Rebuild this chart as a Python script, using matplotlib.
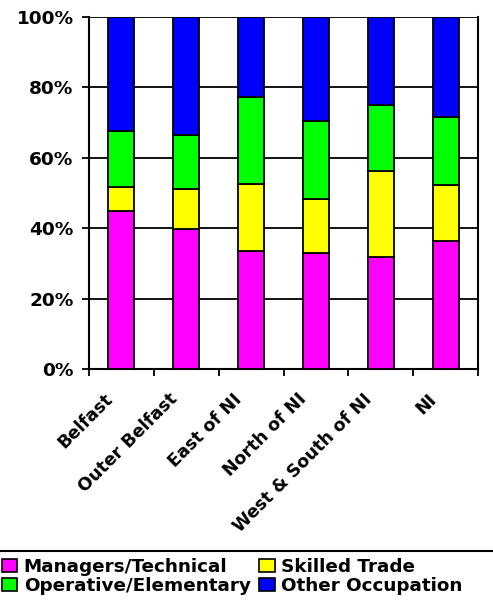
import matplotlib
matplotlib.use("Agg")

import matplotlib.pyplot as plt
from matplotlib.lines import Line2D
from matplotlib.patches import Patch
import numpy as np

regions = ["Belfast", "Outer Belfast", "East of NI", "North of NI",
           "West & South of NI", "NI"]
managers = [45.0, 39.8, 33.4, 33.0, 31.9, 36.5]
skilled = [6.7, 11.3, 19.1, 15.3, 24.3, 15.8]
operative = [15.8, 15.4, 24.7, 22.2, 18.8, 19.3]
other = [32.5, 33.5, 22.8, 29.5, 25.0, 28.4]

series = [
    ("Managers/Technical", managers, "#ff00ff"),
    ("Skilled Trade", skilled, "#ffff00"),
    ("Operative/Elementary", operative, "#00ff00"),
    ("Other Occupation", other, "#0000ff"),
]

plt.rcParams["font.family"] = ["DejaVu Sans"]
plt.rcParams["font.weight"] = "bold"

fig = plt.figure(figsize=(4.93, 6.04), dpi=100)
ax = fig.add_axes([89 / 493, 1 - 369 / 604, 389 / 493, 352 / 604])

x = np.arange(len(regions))
bottom = np.zeros(len(regions))
for name, vals, color in series:
    vals = np.array(vals)
    ax.bar(x, vals, width=0.4, bottom=bottom, color=color,
           edgecolor="black", linewidth=1.3, zorder=3)
    bottom += vals

# horizontal grid at every 20%
for yv in range(20, 101, 20):
    ax.axhline(yv, color="black", linewidth=1.3, zorder=1)

ax.set_xlim(-0.5, len(regions) - 0.5)
ax.set_ylim(0, 100)
ax.set_yticks(range(0, 101, 20))
ax.set_yticklabels([f"{v}%" for v in range(0, 101, 20)], fontsize=13.3,
                   fontweight="bold")
ax.tick_params(axis="y", length=5, width=1.3, pad=6)

# category ticks sit on the boundaries between bars
ax.set_xticks(np.arange(-0.5, len(regions), 1.0))
ax.set_xticklabels([])
ax.tick_params(axis="x", length=5, width=1.3, direction="out")
for i, label in enumerate(regions):
    ax.text(i - 0.28, -6, label, rotation=45, ha="right", va="top",
            rotation_mode="anchor", fontsize=12.6, fontweight="bold",
            transform=ax.transData, clip_on=False)

for side in ["left", "right", "bottom"]:
    ax.spines[side].set_linewidth(1.5)
ax.spines["top"].set_visible(False)

# separator line above the legend
fig.add_artist(Line2D([0, 1], [1 - 551 / 604, 1 - 551 / 604],
                      color="black", linewidth=1.5,
                      transform=fig.transFigure))

handles = [Patch(facecolor=c, edgecolor="black", linewidth=1.2, label=n)
           for n, _, c in series]
order = [0, 2, 1, 3]
fig.legend([handles[i] for i in order], [series[i][0] for i in order],
           loc="upper left", bbox_to_anchor=(0.0, 1 - 556 / 604), ncol=2,
           frameon=False, prop={"weight": "bold", "size": 13.2},
           handlelength=0.85, handleheight=0.7, handletextpad=0.35,
           columnspacing=0.45, labelspacing=0.07, borderaxespad=0.0,
           borderpad=0.1)

fig.savefig("out.png", dpi=100)
